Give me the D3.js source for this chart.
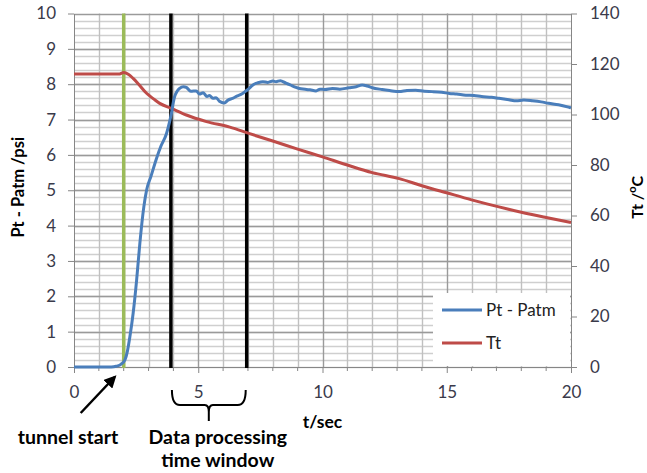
<!DOCTYPE html>
<html>
<head>
<meta charset="utf-8">
<script src="https://cdn.jsdelivr.net/npm/d3@7"></script>
<style>
  body { margin: 0; background: #fff; }
  svg { font-family: Lato, "Open Sans", sans-serif; }
</style>
</head>
<body>
<div id="viz"></div>
<script>
// Pt - Patm (psi)
const ptTime = [0, 1.5, 1.7, 1.9, 2.05, 2.15, 2.25, 2.38, 2.52, 2.65, 2.81, 2.92, 3.1, 3.32, 3.5, 3.72, 3.85, 3.92, 4.0, 4.05,
  4.15, 4.25, 4.4, 4.52, 4.7, 4.92, 5.05, 5.2, 5.35, 5.45, 5.6, 5.72, 5.85, 6.05, 6.2, 6.38, 6.55, 6.75, 6.88, 7.0,
  7.2, 7.4, 7.6, 7.8, 8.0, 8.13, 8.3, 8.53, 8.7, 8.93, 9.07, 9.3, 9.5, 9.74, 9.9, 10.1, 10.4, 10.7, 11.07, 11.3,
  11.6, 11.8, 12.0, 12.4, 12.7, 13.08, 13.4, 13.75, 14.1, 14.42, 14.8, 15.1, 15.4, 15.77, 16.1, 16.4, 16.8, 17.1, 17.5, 17.8,
  18.1, 18.45, 18.8, 19.1, 19.5, 19.9, 20];
const ptValue = [0, 0, 0.02, 0.08, 0.2, 0.45, 0.86, 1.52, 2.46, 3.5, 4.53, 5.0, 5.4, 5.9, 6.25, 6.6, 6.95, 7.17, 7.5, 7.65,
  7.8, 7.88, 7.93, 7.91, 7.8, 7.81, 7.72, 7.76, 7.65, 7.68, 7.6, 7.62, 7.52, 7.47, 7.55, 7.6, 7.66, 7.72, 7.79, 7.85,
  7.98, 8.04, 8.07, 8.05, 8.09, 8.07, 8.1, 8.03, 7.98, 7.91, 7.88, 7.86, 7.84, 7.81, 7.86, 7.85, 7.88, 7.86, 7.9, 7.92,
  7.98, 7.95, 7.9, 7.85, 7.82, 7.79, 7.82, 7.83, 7.8, 7.79, 7.77, 7.74, 7.72, 7.69, 7.68, 7.65, 7.63, 7.6, 7.56, 7.53,
  7.55, 7.53, 7.5, 7.46, 7.42, 7.35, 7.33];

// Tt (deg C)
const ttTime = [0, 1.8, 2.0, 2.2, 2.38, 2.6, 2.92, 3.2, 3.45, 3.92, 4.52, 5.33, 6.27, 7.07, 8, 9, 10, 11, 12, 13.09, 14, 15.03, 16, 17.1, 18, 19, 20];
const ttValue = [116, 116, 116.6, 115.8, 114.3, 112, 108.4, 106.2, 104.4, 102.4, 99.8, 97.2, 95.0, 92.4, 89.5, 86.3, 83.2, 80, 77, 74.6, 71.8, 68.9, 66.2, 63.4, 61.3, 59.2, 57.2];

const leftTicks = [0, 1, 2, 3, 4, 5, 6, 7, 8, 9, 10];
const rightTicks = [0, 20, 40, 60, 80, 100, 120, 140];
const xTicks = [0, 5, 10, 15, 20];

const tunnelStart = 2.0;
const windowStart = 3.9;
const windowEnd = 6.95;

const W = 647, H = 473;
const pLeft = 74, pRight = 571, pTop = 13.5, pBottom = 367;

const svg = d3.select("#viz").append("svg")
  .attr("width", W)
  .attr("height", H);

svg.append("rect").attr("width", W).attr("height", H).attr("fill", "#fff");

const x = d3.scaleLinear().domain([0, 20]).range([pLeft, pRight]);
const y = d3.scaleLinear().domain([0, 10]).range([pBottom, pTop]);
const y2 = d3.scaleLinear().domain([0, 140]).range([pBottom, pTop]);

// gridlines
const grid = svg.append("g");
grid.selectAll("line.hmin")
  .data(d3.range(0, 50).map(i => i * 0.2))
  .enter().append("line")
  .attr("x1", pLeft).attr("x2", pRight)
  .attr("y1", d => Math.round(y(d)) + 0.5).attr("y2", d => Math.round(y(d)) + 0.5)
  .attr("stroke", "#cfcfcf").attr("stroke-width", 1.4);
grid.selectAll("line.vmin")
  .data(d3.range(1, 20))
  .enter().append("line")
  .attr("y1", pTop).attr("y2", pBottom)
  .attr("x1", d => Math.round(x(d)) + 0.5).attr("x2", d => Math.round(x(d)) + 0.5)
  .attr("stroke", d => d % 5 === 0 ? "#9a9a9a" : "#c0c0c0").attr("stroke-width", 1.4);
grid.selectAll("line.hmaj")
  .data(leftTicks.slice(1))
  .enter().append("line")
  .attr("x1", pLeft).attr("x2", pRight)
  .attr("y1", d => Math.round(y(d)) + 0.5).attr("y2", d => Math.round(y(d)) + 0.5)
  .attr("stroke", "#9a9a9a").attr("stroke-width", 1.4);

// axes
const tickFont = g => {
  g.select(".domain").attr("stroke", "#868686");
  g.selectAll(".tick line").attr("stroke", "#868686");
  g.selectAll(".tick text").attr("fill", "#3a3a4a").attr("font-size", 17).attr("font-family", "Lato, sans-serif");
};

svg.append("g")
  .attr("transform", `translate(${pLeft},0)`)
  .call(d3.axisLeft(y).tickValues(leftTicks).tickSize(6).tickSizeOuter(0).tickPadding(12))
  .call(tickFont);

svg.append("g")
  .attr("transform", `translate(${pRight},0)`)
  .call(d3.axisRight(y2).tickValues(rightTicks).tickSize(6).tickSizeOuter(0).tickPadding(13))
  .call(tickFont);

const xAxis = svg.append("g")
  .attr("transform", `translate(0,${pBottom})`)
  .call(d3.axisBottom(x).tickValues(xTicks).tickSize(6).tickSizeOuter(0).tickPadding(13))
  .call(tickFont);
xAxis.selectAll(".minor")
  .data(d3.range(1, 20).filter(d => d % 5 !== 0))
  .enter().append("line")
  .attr("x1", d => x(d)).attr("x2", d => x(d))
  .attr("y1", 0).attr("y2", 4)
  .attr("stroke", "#868686");

// marker lines
const marks = [
  { t: tunnelStart, color: "#9bbb59" },
  { t: windowStart, color: "#000" },
  { t: windowEnd, color: "#000" }
];
svg.selectAll("line.mark")
  .data(marks)
  .enter().append("line")
  .attr("x1", d => x(d.t)).attr("x2", d => x(d.t))
  .attr("y1", pTop).attr("y2", pBottom + 1)
  .attr("stroke", d => d.color)
  .attr("stroke-width", 3.5);

// series
const ptData = ptTime.map((t, i) => [t, ptValue[i]]);
const ttData = ttTime.map((t, i) => [t, ttValue[i]]);

svg.append("path")
  .datum(ttData)
  .attr("fill", "none")
  .attr("stroke", "#be4b48")
  .attr("stroke-width", 3)
  .attr("d", d3.line().x(d => x(d[0])).y(d => y2(d[1])).curve(d3.curveMonotoneX));

svg.append("path")
  .datum(ptData)
  .attr("fill", "none")
  .attr("stroke", "#4a7ebb")
  .attr("stroke-width", 3)
  .attr("stroke-linejoin", "round")
  .attr("d", d3.line().x(d => x(d[0])).y(d => y(d[1])).curve(d3.curveMonotoneX));

// legend
const legend = svg.append("g").attr("transform", "translate(433,293)");
legend.append("rect").attr("width", 137).attr("height", 73).attr("fill", "#fff");
const legendItems = [
  { name: "Pt - Patm", color: "#4a7ebb" },
  { name: "Tt", color: "#be4b48" }
];
legendItems.forEach((d, i) => {
  const ly = 17 + i * 33;
  legend.append("line")
    .attr("x1", 9).attr("x2", 49).attr("y1", ly).attr("y2", ly)
    .attr("stroke", d.color).attr("stroke-width", 3);
  legend.append("text")
    .attr("x", 53).attr("y", ly)
    .attr("dy", "0.35em")
    .attr("font-size", 17)
    .attr("fill", "#222")
    .text(d.name);
});

// axis titles
svg.append("text")
  .attr("transform", `translate(24,${(pTop + pBottom) / 2 - 3}) rotate(-90)`)
  .attr("text-anchor", "middle")
  .attr("font-weight", "bold")
  .attr("font-size", 16.5)
  .text("Pt - Patm /psi");

const rt = svg.append("text")
  .attr("transform", `translate(643,${(pTop + pBottom) / 2 + 7}) rotate(-90)`)
  .attr("text-anchor", "middle")
  .attr("font-weight", "bold")
  .attr("font-size", 16);
rt.append("tspan").text("Tt /");
rt.append("tspan").attr("font-size", 11).attr("dy", -7).text("o");
rt.append("tspan").attr("dy", 7).text("C");

svg.append("text")
  .attr("x", x(10)).attr("y", 428)
  .attr("text-anchor", "middle")
  .attr("font-weight", "bold")
  .attr("font-size", 17.5)
  .text("t/sec");

// annotations
svg.append("defs").append("marker")
  .attr("id", "arrow")
  .attr("viewBox", "0 0 10 10")
  .attr("refX", 8).attr("refY", 5)
  .attr("markerWidth", 5).attr("markerHeight", 5)
  .attr("orient", "auto")
  .append("path").attr("d", "M0,0L10,5L0,10z").attr("fill", "#000");

svg.append("line")
  .attr("x1", x(tunnelStart) - 43).attr("y1", 413)
  .attr("x2", x(tunnelStart) - 9).attr("y2", 377)
  .attr("stroke", "#000").attr("stroke-width", 2.5)
  .attr("marker-end", "url(#arrow)");

svg.append("text")
  .attr("x", 68).attr("y", 444)
  .attr("text-anchor", "middle")
  .attr("font-weight", "bold")
  .attr("font-size", 19.5)
  .text("tunnel start");

const bx0 = x(windowStart) + 1, bx1 = x(windowEnd) - 1, bm = (bx0 + bx1) / 2;
const brace = d3.path();
brace.moveTo(bx0, 390);
brace.quadraticCurveTo(bx0, 405, bx0 + 8, 405);
brace.lineTo(bm - 4, 405);
brace.quadraticCurveTo(bm, 405, bm, 412);
brace.lineTo(bm, 421);
brace.moveTo(bm, 412);
brace.quadraticCurveTo(bm, 405, bm + 4, 405);
brace.lineTo(bx1 - 8, 405);
brace.quadraticCurveTo(bx1, 405, bx1, 390);
svg.append("path")
  .attr("d", brace.toString())
  .attr("fill", "none")
  .attr("stroke", "#000")
  .attr("stroke-width", 2);

const dp = svg.append("text")
  .attr("text-anchor", "middle")
  .attr("font-weight", "bold")
  .attr("font-size", 19.5);
dp.append("tspan").attr("x", bm + 9).attr("y", 444).text("Data processing");
dp.append("tspan").attr("x", bm + 9).attr("y", 467).text("time window");
</script>
</body>
</html>
